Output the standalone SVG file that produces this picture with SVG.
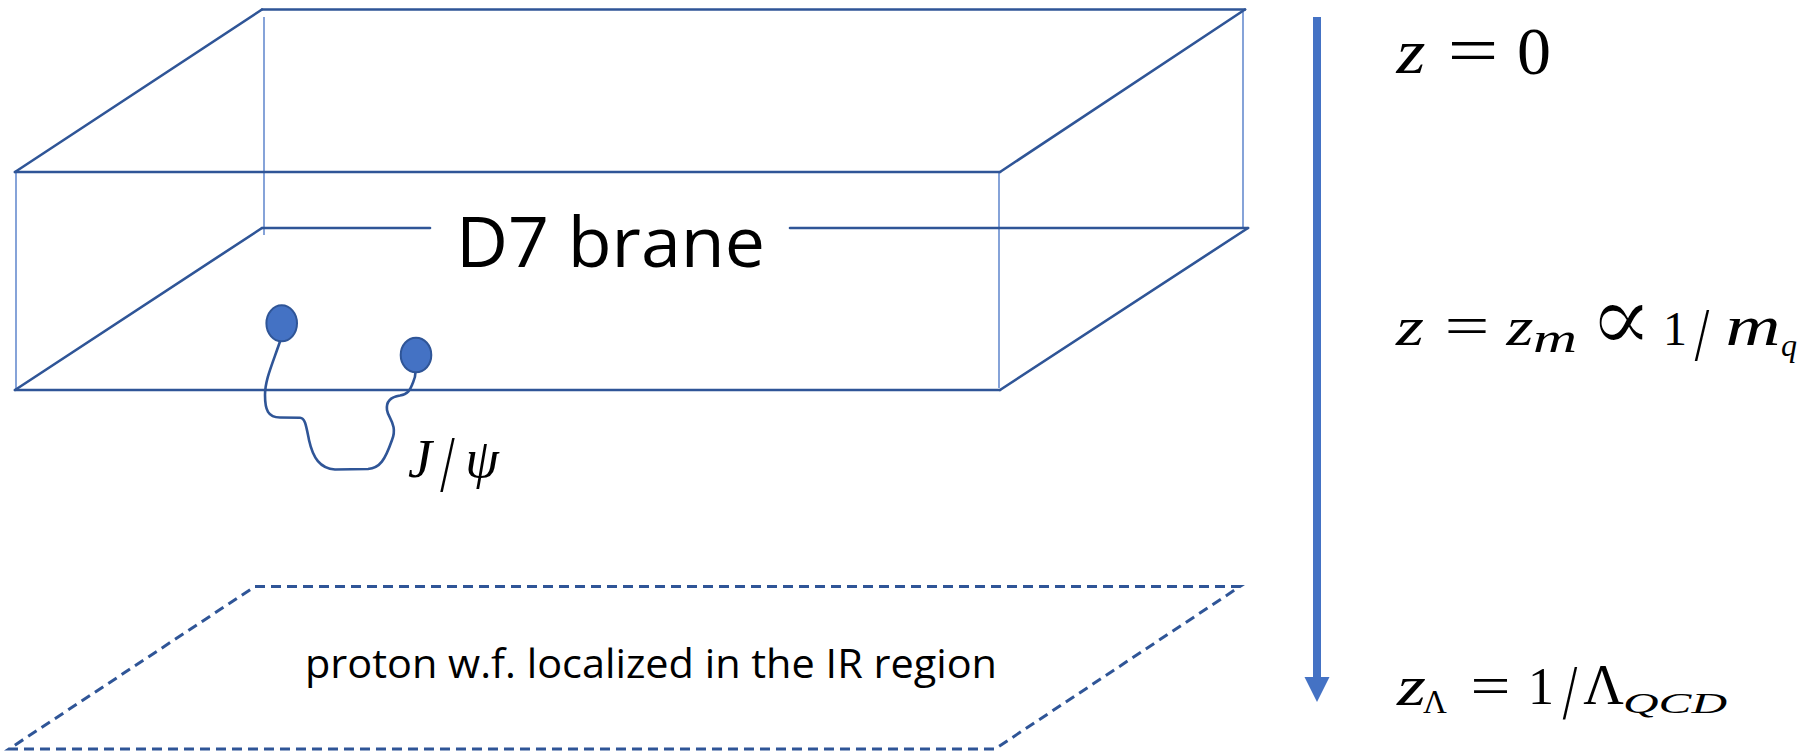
<svg xmlns="http://www.w3.org/2000/svg" width="1814" height="753" viewBox="0 0 1814 753">
<style>
.edge{stroke:#2F5597;stroke-width:2.6;fill:none;stroke-linecap:round}
.thin{stroke:#4472C4;stroke-width:1.3;fill:none}
.dash{stroke:#2F5597;stroke-width:3;fill:none;stroke-dasharray:10 6}
.quark{fill:#4472C4;stroke:#2F5597;stroke-width:2}
.str{stroke:#2F5597;stroke-width:2.6;fill:none;stroke-linecap:round;stroke-linejoin:round}
.sans{font-family:"Open Sans","Liberation Sans",sans-serif;fill:#000}
.m{font-family:"Liberation Serif","DejaVu Serif",serif;fill:#000}
.i{font-style:italic}
.dv{font-family:"DejaVu Serif","DejaVu Sans",serif;fill:#000;stroke:#fff;stroke-width:0.7}
</style>
<rect width="1814" height="753" fill="#fff"/>
<g id="brane-box">
  <line class="thin" x1="264" y1="17" x2="264" y2="235"/>
  <line class="thin" x1="1243" y1="12" x2="1243" y2="228"/>
  <line class="thin" x1="16" y1="172" x2="16" y2="390"/>
  <line class="thin" x1="999" y1="172" x2="999" y2="388"/>
  <line class="edge" x1="262" y1="9.5" x2="1245" y2="9.5"/>
  <line class="edge" x1="15" y1="172" x2="262" y2="9.5"/>
  <line class="edge" x1="1000" y1="172" x2="1245" y2="9.5"/>
  <line class="edge" x1="15" y1="172" x2="1000" y2="172"/>
  <line class="edge" x1="15" y1="390" x2="1000" y2="390"/>
  <line class="edge" x1="15" y1="390" x2="262" y2="228"/>
  <line class="edge" x1="1000" y1="390" x2="1248" y2="228"/>
  <line class="edge" x1="262" y1="228" x2="430" y2="228"/>
  <line class="edge" x1="790" y1="228" x2="1248" y2="228"/>
  <text class="sans" x="456" y="267" font-size="70" textLength="309" lengthAdjust="spacingAndGlyphs">D7 brane</text>
</g>
<g id="jpsi">
  <path class="str" d="M280,341.5 C272,365 265,380 265,395 C265,410 268,417.5 280,417.5 L300,417.7 C305,418 306,425 309,440 C313,458 320,468.5 335,469.5 L368,469 C380,468 385,460 392,440 C398,425 388,418 387,410 C386,402 390,397 400,395.5 C408,394 410,390 412,385 C414,380 415.5,378 415.5,372"/>
  <ellipse class="quark" cx="281.7" cy="323.3" rx="15.3" ry="18"/>
  <ellipse class="quark" cx="416" cy="355" rx="15.3" ry="17.3"/>
  <text class="m i" x="420" y="477" font-size="54" text-anchor="middle">J</text>
  <text class="m" transform="translate(447.5,491) scale(1,1.55)" font-size="52" text-anchor="middle">/</text>
  <text class="m i" x="482" y="477" font-size="54" text-anchor="middle">ψ</text>
</g>
<g id="proton-plane">
  <path class="dash" d="M255,586.5 L1240,586.5 L995,749 L9,749 Z"/>
  <text class="sans" x="305" y="678" font-size="40" textLength="692" lengthAdjust="spacingAndGlyphs">proton w.f. localized in the IR region</text>
</g>
<g id="connectors">
  <line x1="1317" y1="17" x2="1317" y2="680" stroke="#4472C4" stroke-width="8"/>
  <polygon points="1304.5,677 1329.5,677 1317,702" fill="#4472C4"/>
</g>
<g id="label-z0">
  <text class="m i" x="1411" y="73" font-size="64" text-anchor="middle" textLength="29" lengthAdjust="spacingAndGlyphs">z</text>
  <text class="m" x="1473" y="73" font-size="68" text-anchor="middle" textLength="51" lengthAdjust="spacingAndGlyphs">=</text>
  <text class="m" x="1534" y="74" font-size="68" text-anchor="middle">0</text>
</g>
<g id="label-zm">
  <text class="m i" x="1410" y="345" font-size="54" text-anchor="middle" textLength="28" lengthAdjust="spacingAndGlyphs">z</text>
  <text class="m" x="1467" y="345" font-size="58" text-anchor="middle" textLength="45" lengthAdjust="spacingAndGlyphs">=</text>
  <text class="m i" x="1520" y="345" font-size="54" text-anchor="middle" textLength="27" lengthAdjust="spacingAndGlyphs">z</text>
  <text class="m i" x="1555" y="352" font-size="42" text-anchor="middle" textLength="44" lengthAdjust="spacingAndGlyphs">m</text>
  <text class="dv" transform="translate(1621,351) scale(2.4,2.4)" font-size="40" text-anchor="middle">∝</text>
  <text class="m" x="1675" y="345" font-size="48" text-anchor="middle">1</text>
  <text class="m" transform="translate(1702,360) scale(1,1.45)" font-size="52" text-anchor="middle">/</text>
  <text class="m i" x="1753" y="345" font-size="58" text-anchor="middle" textLength="55" lengthAdjust="spacingAndGlyphs">m</text>
  <text class="m i" x="1789" y="356" font-size="32" text-anchor="middle">q</text>
</g>
<g id="label-zL">
  <text class="m i" x="1411.5" y="705" font-size="56" text-anchor="middle" textLength="29" lengthAdjust="spacingAndGlyphs">z</text>
  <text class="m" x="1435" y="713" font-size="33" text-anchor="middle">Λ</text>
  <text class="m" x="1490.5" y="705" font-size="56" text-anchor="middle" textLength="40" lengthAdjust="spacingAndGlyphs">=</text>
  <text class="m" x="1541" y="704" font-size="52" text-anchor="middle">1</text>
  <text class="m" transform="translate(1570,718) scale(1,1.5)" font-size="52" text-anchor="middle">/</text>
  <text class="m" x="1603.5" y="704" font-size="56" text-anchor="middle">Λ</text>
  <text class="m i" x="1623" y="713" font-size="30" textLength="104" lengthAdjust="spacingAndGlyphs">QCD</text>
</g>
</svg>
